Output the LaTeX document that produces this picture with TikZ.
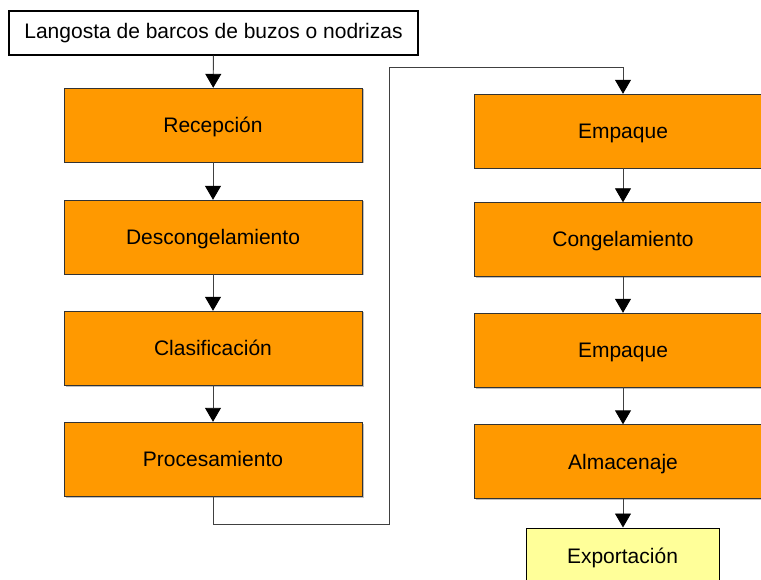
\documentclass[tikz,border=0pt]{standalone}
\usepackage{fontspec}
\setmainfont{Liberation Sans}
\usetikzlibrary{arrows.meta,shadows}
\definecolor{naranja}{HTML}{FF9900}
\definecolor{amarillo}{HTML}{FFFF99}
\begin{document}
\begin{tikzpicture}[x=1pt, y=-1pt,
    paso/.style={draw=black!80, fill=naranja, minimum width=298pt, minimum height=74pt,
        text height=17pt, text depth=2pt,
        drop shadow={shadow xshift=1.5pt, shadow yshift=-1.5pt, fill=black!25, opacity=1}},
    flecha/.style={draw=black!75, line width=0.9pt, -{Triangle[width=16pt,length=14pt,color=black]}},
    font=\fontsize{21}{24}\selectfont]
    \useasboundingbox (0,0) rectangle (761,580);
    \node[draw, line width=1.2pt, fill=white, minimum width=409pt, minimum height=44pt] (origen) at (213.5,33) {Langosta de barcos de buzos o nodrizas};
    % columna izquierda
    \node[paso] (recepcion) at (213,125) {Recepción};
    \node[paso] (descong) at (213,237) {Descongelamiento};
    \node[paso] (clasif) at (213,348) {Clasificación};
    \node[paso] (proces) at (213,459) {Procesamiento};
    % columna derecha
    \node[paso] (empaque) at (623,131) {Empaque};
    \node[paso] (congel) at (623,239.5) {Congelamiento};
    \node[paso] (empaque2) at (623,350) {Empaque};
    \node[paso] (almacen) at (623,461.5) {Almacenaje};
    \node[draw, line width=1pt, fill=amarillo, minimum width=193pt, minimum height=60pt,
        text height=17pt, text depth=6pt] (export) at (622.5,558) {Exportación};
    \draw[flecha] (origen) -- (recepcion);
    \draw[flecha] (recepcion) -- (descong);
    \draw[flecha] (descong) -- (clasif);
    \draw[flecha] (clasif) -- (proces);
    \draw[flecha] (proces.south) -- ++(0,28) -| (389,67) -| (empaque.north);
    \draw[flecha] (empaque) -- (congel);
    \draw[flecha] (congel) -- (empaque2);
    \draw[flecha] (empaque2) -- (almacen);
    \draw[flecha] (almacen.south) -- (almacen.south |- export.north);
\end{tikzpicture}
\end{document}
